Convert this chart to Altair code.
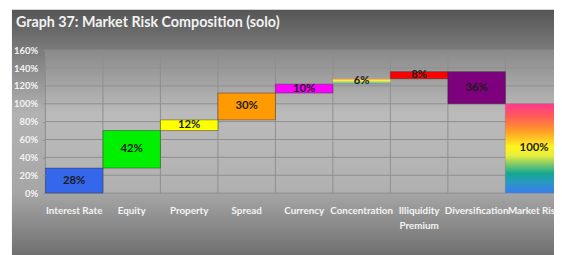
import altair as alt
import pandas as pd

categories = ["Interest Rate", "Equity", "Property", "Spread", "Currency",
              "Concentration", "Illiquidity Premium", "Diversification", "Market Risk"]
values = [28, 42, 12, 30, 10, 6, 8, -36, 100]
labels = ["28%", "42%", "12%", "30%", "10%", "6%", "8%", "36%", "100%"]
colors = ["#3567ec", "#00f000", "#ffff00", "#ff9a00", "#ff00ff",
          "#cccccc", "#ff0000", "#7d007d", "#ffffff"]
y_ticks = [0, 20, 40, 60, 80, 100, 120, 140, 160]
gradient_cats = ["Concentration", "Market Risk"]

# waterfall start / end from the values
starts, ends = [], []
running = 0
for cat, v in zip(categories, values):
    if cat == "Market Risk":
        s, e = 0, v
    else:
        s, e = running, running + v
        running = e
    starts.append(s)
    ends.append(e)

df = pd.DataFrame({"category": categories, "start": starts, "end": ends,
                   "label": labels})
df["mid"] = (df["start"] + df["end"]) / 2
ticks_df = pd.DataFrame({"tick": y_ticks})
one = pd.DataFrame({"k": [0]})

FONT = "Lato"
GRID = "#8e8e8e"

x_scale = alt.Scale(domain=categories, range=[0, 525], paddingInner=0, paddingOuter=0)
y_scale = alt.Scale(domain=[0, 160], nice=False, zero=True)

x_axis = alt.Axis(title=None, domain=False, ticks=False, grid=False, labelAngle=0,
                  labelFont=FONT, labelFontWeight="bold", labelFontSize=10,
                  labelColor="#f4f4f4", labelPadding=13, labelLineHeight=15,
                  labelBaseline="top", zindex=1,
                  labelExpr="datum.label == 'Illiquidity Premium' ? ['Illiquidity', 'Premium'] : datum.label")
y_axis = alt.Axis(title=None, values=y_ticks, domain=False, ticks=True, tickSize=3,
                  tickColor=GRID, grid=False, labelFont=FONT, labelFontWeight="bold",
                  labelFontSize=9.5, labelColor="#f4f4f4", labelPadding=5, zindex=1,
                  labelExpr="datum.value + '%'")

X = alt.X("category:N", scale=x_scale, axis=x_axis, sort=categories)

bg_grad = alt.LinearGradient(gradient="linear", x1=0, x2=0, y1=0, y2=1, stops=[
    alt.GradientStop(color="#555555", offset=0),
    alt.GradientStop(color="#787878", offset=0.15),
    alt.GradientStop(color="#b2b2b2", offset=0.42),
    alt.GradientStop(color="#a6a6a6", offset=0.74),
    alt.GradientStop(color="#6e6e6e", offset=1),
])
background = alt.Chart(one).mark_rect(color=bg_grad).encode(
    x=alt.value(-34), x2=alt.value(530), y=alt.value(-41), y2=alt.value(210))

plot_fill = alt.Chart(one).mark_rect(color="#ffffff", opacity=0.12).encode(
    x=alt.value(0), x2=alt.value(530), y=alt.value(0), y2=alt.value(145))

hgrid = alt.Chart(ticks_df).mark_rule(color=GRID, strokeWidth=1).encode(
    y=alt.Y("tick:Q", scale=y_scale, axis=y_axis))

vgrid = alt.Chart(df).mark_rule(color=GRID, strokeWidth=1).encode(
    x=alt.X("category:N", scale=x_scale, axis=x_axis, sort=categories, bandPosition=0))

solid = alt.Chart(df).transform_filter(
    alt.FieldOneOfPredicate(field="category", oneOf=[c for c in categories if c not in gradient_cats])
).mark_bar(stroke="#2a2a2a", strokeWidth=0.8, strokeOpacity=0.55).encode(
    x=X,
    y=alt.Y("start:Q", scale=y_scale, axis=y_axis),
    y2="end:Q",
    color=alt.Color("category:N", scale=alt.Scale(domain=categories, range=colors), legend=None),
)

conc_grad = alt.LinearGradient(gradient="linear", x1=0, x2=0, y1=0, y2=1, stops=[
    alt.GradientStop(color="#f39a3a", offset=0),
    alt.GradientStop(color="#ffee55", offset=0.35),
    alt.GradientStop(color="#a8d060", offset=0.65),
    alt.GradientStop(color="#5f8fc8", offset=1),
])
conc = alt.Chart(df).transform_filter(alt.datum.category == "Concentration").mark_bar(
    color=conc_grad).encode(x=X, y=alt.Y("start:Q", scale=y_scale, axis=y_axis), y2="end:Q")

mr_grad = alt.LinearGradient(gradient="linear", x1=0, x2=0, y1=0, y2=1, stops=[
    alt.GradientStop(color="#ff3a8c", offset=0),
    alt.GradientStop(color="#ff5a5a", offset=0.14),
    alt.GradientStop(color="#ff9a28", offset=0.3),
    alt.GradientStop(color="#fff21e", offset=0.48),
    alt.GradientStop(color="#e6ef3c", offset=0.58),
    alt.GradientStop(color="#7cc86a", offset=0.68),
    alt.GradientStop(color="#14a890", offset=0.78),
    alt.GradientStop(color="#2a98c4", offset=0.88),
    alt.GradientStop(color="#3a7cf0", offset=1),
])
mrisk = alt.Chart(df).transform_filter(alt.datum.category == "Market Risk").mark_bar(
    color=mr_grad).encode(x=X, y=alt.Y("start:Q", scale=y_scale, axis=y_axis), y2="end:Q")

text = alt.Chart(df).mark_text(font=FONT, fontWeight="bold", fontSize=11.5,
                               color="#1c1c1c").encode(
    x=X, y=alt.Y("mid:Q", scale=y_scale, axis=y_axis), text="label:N")

chart = alt.layer(background, plot_fill, hgrid, vgrid, solid, conc, mrisk, text).properties(
    width=516, height=145,
    title=alt.TitleParams("Graph 37: Market Risk Composition (solo)", anchor="start",
                          font=FONT, fontSize=14.5, fontWeight="bold", color="#f2f2f2",
                          offset=0, baseline="alphabetic", dx=4, dy=32),
    autosize=alt.AutoSizeParams(type="none"),
    padding={"left": 38, "top": 41, "right": 0, "bottom": 61},
    background="#ffffff",
).configure_view(stroke=None)

chart.save("out.html", embed_options={"renderer": "svg", "actions": False})
